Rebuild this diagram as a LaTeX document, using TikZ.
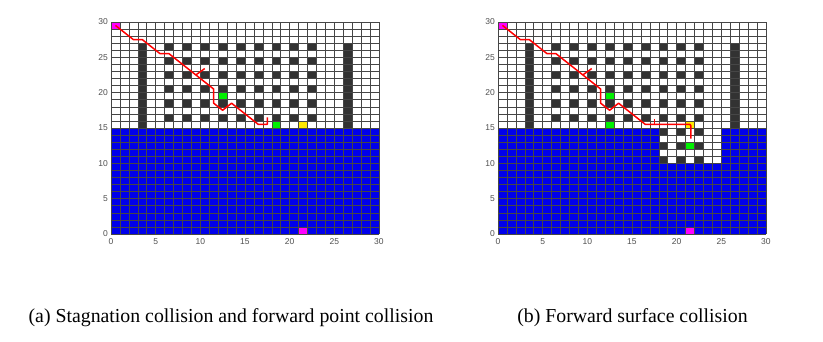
\documentclass[tikz,border=0pt]{standalone}
\usepackage{fontspec}
\setmainfont{Liberation Serif}
\newfontfamily\axfont{Liberation Sans}
\definecolor{obsblue}{RGB}{0,0,235}
\definecolor{obsdark}{RGB}{50,50,50}
\definecolor{gridgray}{RGB}{70,70,70}
\definecolor{ptgreen}{RGB}{0,240,0}
\definecolor{ptyellow}{RGB}{255,232,0}
\definecolor{ptmag}{RGB}{255,0,255}
\definecolor{labgray}{RGB}{80,80,80}
\tikzset{
  gridln/.style={gridgray, line width=0.45pt},
  pathln/.style={red, line width=1.5pt, line join=round},
  ticklab/.style={font=\axfont\fontsize{8.5}{9}\selectfont, text=labgray, inner sep=0pt},
  caplab/.style={font=\fontsize{19.8}{22}\selectfont, inner sep=0pt, anchor=base},
}
\newcommand{\panelbase}[1]{%
  \fill[obsdark] (3,15) rectangle (4,27);
  \fill[obsdark] (26,15) rectangle (27,27);
  \foreach \i in {6,8,...,22}{\foreach \j in {16,18,...,26}{\fill[obsdark] (\i,\j) rectangle ++(1,1);}}
  \fill[ptmag] (0,29) rectangle (1,30);
  \fill[ptmag] (21,0) rectangle (22,1);
}
\newcommand{\panelgrid}[1]{%
  \foreach \k in {0,...,30}{\draw[gridln] (\k,0) -- (\k,30); \draw[gridln] (0,\k) -- (30,\k);}
  \foreach \v in {0,5,...,30}{%
    \node[ticklab, anchor=east] (#1y\v) at ([xshift=-3pt]0,\v) {\v};
    \node[ticklab, anchor=north] (#1x\v) at ([yshift=-4.5pt]\v,0) {\v};
  }
}
\begin{document}
\begin{tikzpicture}[x=1pt,y=1pt]
\useasboundingbox (0,0) rectangle (823,341);
\fill[white] (0,0) rectangle (823,341);
% ---------------- panel (a)
\begin{scope}[shift={(111,107)}, x=8.93pt, y=7.07pt]
  \fill[obsblue] (0,0) rectangle (30,15);
  \panelbase{a}
  \fill[ptgreen] (12,19) rectangle ++(1,1);
  \fill[ptgreen] (18,15) rectangle ++(1,1);
  \fill[ptyellow] (21,15) rectangle ++(1,1);
  \panelgrid{a}
  \coordinate (aS) at (0.5,29.5);
  \coordinate (aE) at (17.5,16.5);
  \coordinate (aB) at (9.5,22.5);
  \coordinate (aT) at (10.5,23.4);
  \draw[pathln] (aS) -- (2.5,27.5) -- (3.5,27.5) -- (5.5,25.5) -- (6.5,25.5) -- (11.5,20.5)
    -- (11.5,18.5) -- (12.5,17.5) -- (13.5,18.5) -- (16.5,15.5) -- (17.5,15.5) -- (aE);
  \draw[pathln] (aB) -- (aT);
\end{scope}
% ---------------- panel (b)
\begin{scope}[shift={(498,107)}, x=8.93pt, y=7.07pt]
  \fill[obsblue] (0,0) rectangle (30,10);
  \fill[obsblue] (0,10) rectangle (18,15);
  \fill[obsblue] (25,10) rectangle (30,15);
  \panelbase{b}
  \foreach \i in {18,20,22}{\foreach \j in {10,12,14}{\fill[obsdark] (\i,\j) rectangle ++(1,1);}}
  \fill[ptgreen] (12,19) rectangle ++(1,1);
  \fill[ptgreen] (12,15) rectangle ++(1,1);
  \fill[ptgreen] (21,12) rectangle ++(1,1);
  \fill[ptyellow] (21,15) rectangle ++(1,1);
  \panelgrid{b}
  \coordinate (bS) at (0.5,29.5);
  \coordinate (bE) at (21.6,13.5);
  \coordinate (bB) at (9.5,22.5);
  \coordinate (bT) at (10.5,23.4);
  \coordinate (bC) at (17.5,15.5);
  \coordinate (bD) at (17.5,16.3);
  \draw[pathln] (bS) -- (2.5,27.5) -- (3.5,27.5) -- (5.5,25.5) -- (6.5,25.5) -- (11.5,20.5)
    -- (11.5,18.5) -- (12.5,17.5) -- (13.5,18.5) -- (16.5,15.5) -- (21.5,15.5) -- (21.6,15.3) -- (bE);
  \draw[pathln] (bB) -- (bT);
  \draw[pathln] (bC) -- (bD);
\end{scope}
% ---------------- captions
\node[caplab] (capa) at (231,19) {(a) Stagnation collision and forward point collision};
\node[caplab] (capb) at (632.5,19) {(b) Forward surface collision};
\end{tikzpicture}
\end{document}
